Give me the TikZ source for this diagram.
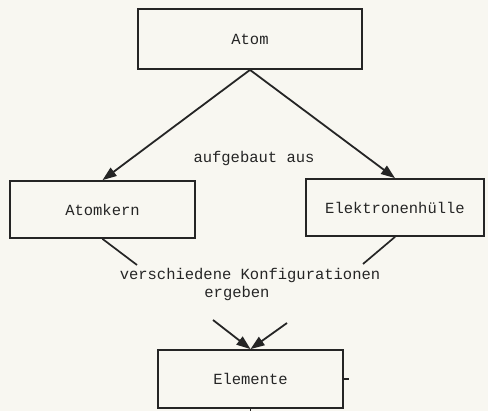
\documentclass[tikz,border=0pt]{standalone}
\usepackage{fontspec}
\setmonofont{Liberation Mono}
\usetikzlibrary{arrows.meta}
\definecolor{paper}{HTML}{F8F7F1}
\definecolor{ink}{HTML}{252525}

\begin{document}
\begin{tikzpicture}[x=1pt, y=-1pt, font=\ttfamily\fontsize{15.5}{18}\selectfont, text=ink,
  box/.style={draw=ink, line width=1.8pt, inner sep=0pt},
  pfeil/.style={draw=ink, line width=1.8pt, -{Triangle[length=14pt, width=10pt]}},
  strich/.style={draw=ink, line width=1.7pt}]

  \fill[paper] (0,0) rectangle (488,411);
  \useasboundingbox (0,0) rectangle (488,411);

  \node[box, minimum width=224pt, minimum height=60pt] (atom) at (250,39) {Atom};
  \node[box, minimum width=185pt, minimum height=57pt] (kern) at (102.5,209.5) {Atomkern};
  \node[box, minimum width=178pt, minimum height=57pt] (huelle) at (395,207.5) {Elektronenh\"ulle};
  \node[box, minimum width=185pt, minimum height=58pt] (elemente) at (250.5,379) {Elemente};

  \node (aufbau) at (254,158) {aufgebaut aus};
  \node[align=center, inner sep=0pt] (konfig) at (250,284) {verschiedene Konfigurationen\\ergeben\hspace*{26pt}};

  \draw[pfeil] (atom.south) -- (kern.north);
  \draw[pfeil] (atom.south) -- (huelle.north);

  \coordinate (kende) at (137,265);
  \coordinate (hende) at (363,264);
  \draw[strich] (kern.south) -- (kende);
  \draw[strich] (huelle.south) -- (hende);

  \coordinate (lstart) at (213,320);
  \coordinate (rstart) at (287,323);
  \draw[pfeil] (lstart) -- (elemente.north);
  \draw[pfeil] (rstart) -- (elemente.north);

  \coordinate (rtick) at (349,379);
  \coordinate (unten) at (250.5,412);
  \draw[strich] (elemente.east) -- (rtick);
  \draw[strich] (elemente.south) -- (unten);

\end{tikzpicture}
\end{document}
